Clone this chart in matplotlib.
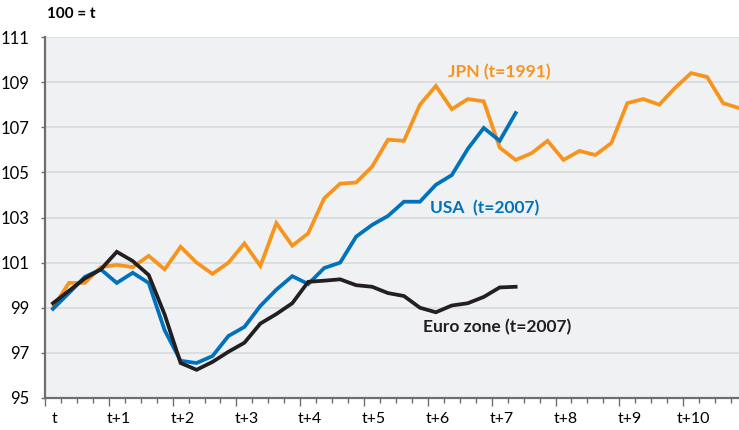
import matplotlib
matplotlib.use("Agg")
import matplotlib.pyplot as plt
import matplotlib.transforms as mtransforms
import numpy as np
from matplotlib import ticker

# quarterly index, 100 = t
jpn = [99.0, 100.1, 100.1, 100.8, 100.9, 100.8, 101.3, 100.7, 101.7, 101.0,
       100.5, 101.0, 101.85, 100.85, 102.75, 101.75, 102.3, 103.85, 104.5, 104.55,
       105.25, 106.45, 106.4, 108.0, 108.83, 107.8, 108.25, 108.15, 106.1, 105.55,
       105.85, 106.4, 105.55, 105.95, 105.77, 106.3, 108.07, 108.25, 108.0, 108.75,
       109.4, 109.23, 108.07, 107.85]
usa = [98.95, 99.65, 100.37, 100.7, 100.1, 100.55, 100.1, 98.0, 96.65, 96.55,
       96.86, 97.75, 98.15, 99.08, 99.8, 100.4, 100.05, 100.76, 101.0, 102.15,
       102.67, 103.07, 103.7, 103.7, 104.45, 104.88, 106.04, 106.97, 106.4, 107.63]
euro = [99.2, 99.75, 100.3, 100.7, 101.48, 101.07, 100.45, 98.7, 96.55, 96.25,
        96.6, 97.05, 97.45, 98.3, 98.72, 99.2, 100.15, 100.2, 100.26, 100.0,
        99.93, 99.65, 99.52, 99.0, 98.8, 99.1, 99.2, 99.48, 99.9, 99.93]
year_labels = ["t", "t+1", "t+2", "t+3", "t+4", "t+5", "t+6", "t+7", "t+8", "t+9", "t+10"]

orange = "#f7941d"
blue = "#0072bc"
black = "#231f20"

plt.rcParams["font.family"] = ["Lato", "DejaVu Sans"]

fig = plt.figure(figsize=(7.39, 4.30), dpi=100)
ax = fig.add_axes([45 / 739, 32 / 430, 1 - 45 / 739, 361 / 430])
ax.set_facecolor("#f0f1f3")

for vals, col in [(jpn, orange), (usa, blue), (euro, black)]:
    x = np.arange(len(vals)) + 0.5
    ax.plot(x, vals, color=col, lw=2.7, solid_joinstyle="miter", zorder=3)

ax.set_xlim(0, 43.5)
ax.set_ylim(95, 111)
ax.set_yticks(np.arange(95, 112, 2))
ax.yaxis.grid(True, color="#d8d9dc", lw=1.2)
ax.set_axisbelow(True)

for s in ["top", "right"]:
    ax.spines[s].set_visible(False)
for s in ["left", "bottom"]:
    ax.spines[s].set_color("#6d6e71")
    ax.spines[s].set_linewidth(1.6)

ax.xaxis.set_minor_locator(ticker.MultipleLocator(1))
ax.set_xticks(np.arange(0, 41, 4))
ax.set_xticklabels(year_labels, ha="center")
ax.tick_params(axis="x", which="major", length=6, width=1, color="#6d6e71",
               labelsize=11.5, pad=4)
ax.tick_params(axis="x", which="minor", length=3.5, width=1, color="#6d6e71")
ax.tick_params(axis="y", length=3, width=1, color="#6d6e71", labelsize=12, pad=8)

# year labels sit a little right of their tick
shift = mtransforms.ScaledTranslation(10 / 100, 0, fig.dpi_scale_trans)
for lab in ax.get_xticklabels():
    lab.set_transform(lab.get_transform() + shift)

fig.text(47 / 739, 1 - 14 / 430, "100 = t", fontsize=11, fontweight="bold",
         va="center", ha="left")

labels = [("JPN (t=1991)", orange, 448, 72),
          ("USA  (t=2007)", blue, 430, 208),
          ("Euro zone (t=2007)", black, 423, 327)]
for txt, col, px, py in labels:
    fig.text(px / 739, 1 - py / 430, txt, color=col, fontsize=12.5,
             fontweight="bold", va="center", ha="left")

fig.savefig("out.png", dpi=100)
